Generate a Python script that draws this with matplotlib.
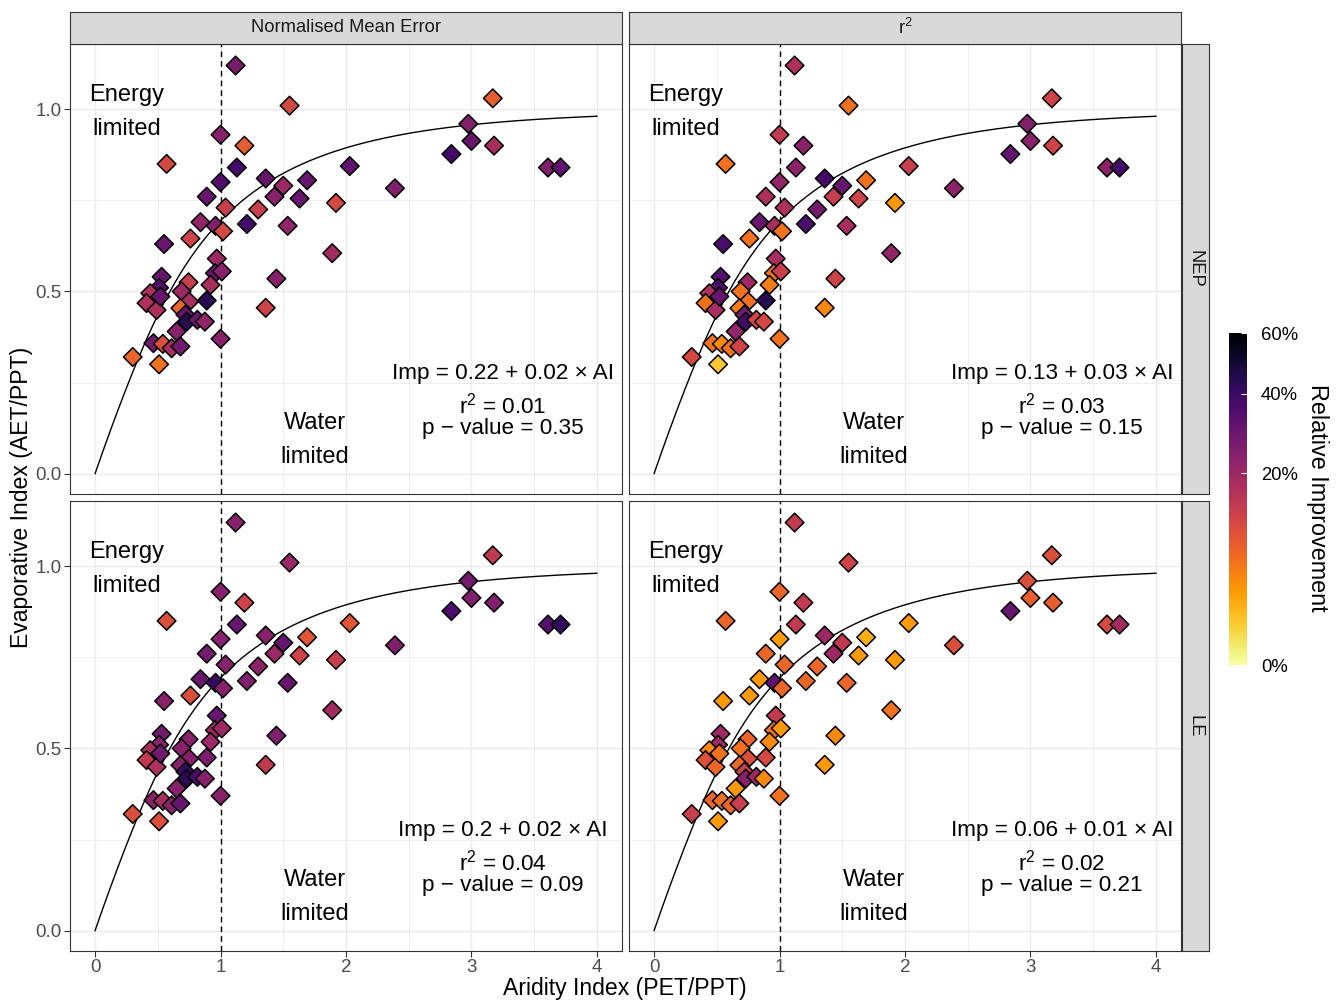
import numpy as np
import matplotlib.pyplot as plt
from matplotlib.colors import PowerNorm
from matplotlib.ticker import MultipleLocator

plt.rcParams['font.family'] = ['Liberation Sans', 'DejaVu Sans']
plt.rcParams['mathtext.fontset'] = 'custom'
plt.rcParams['mathtext.rm'] = 'Liberation Sans'
plt.rcParams['mathtext.it'] = 'Liberation Sans:italic'

# site positions (same in every panel)
aridity = [1.12, 1.55, 1.00, 1.19, 0.57, 1.13, 1.36, 1.00, 0.89, 1.50,
           1.43, 1.63, 1.04, 1.30, 1.21, 1.535, 0.84, 0.96, 1.02, 0.76,
           0.55, 0.97, 0.53, 0.745, 0.955, 1.01, 1.445, 3.17, 2.975, 3.00,
           3.18, 2.84, 3.61, 3.71, 2.03, 2.39, 1.69, 1.92, 1.89, 0.51,
           0.44, 0.69, 0.92, 0.89, 0.41, 0.49, 0.52, 0.75, 0.68, 0.72,
           0.73, 0.815, 0.875, 0.65, 0.465, 0.54, 0.61, 0.68, 1.00, 0.30,
           0.51, 1.36]
evap = [1.12, 1.01, 0.93, 0.90, 0.85, 0.84, 0.81, 0.80, 0.76, 0.79,
        0.76, 0.755, 0.73, 0.725, 0.685, 0.68, 0.69, 0.68, 0.665, 0.645,
        0.63, 0.59, 0.54, 0.525, 0.55, 0.555, 0.535, 1.03, 0.96, 0.913,
        0.90, 0.877, 0.84, 0.84, 0.844, 0.783, 0.805, 0.743, 0.605, 0.51,
        0.495, 0.50, 0.518, 0.475, 0.468, 0.449, 0.486, 0.472, 0.454, 0.436,
        0.417, 0.422, 0.417, 0.39, 0.358, 0.356, 0.344, 0.349, 0.37, 0.32,
        0.30, 0.455]

# relative improvement (%) per panel
nep_nme = [27, 11, 24, 8, 11, 38, 30, 35, 30, 20,
           24, 30, 13, 13, 38, 22, 22, 25, 11, 12,
           30, 20, 30, 13, 30, 24, 24, 8, 25, 30,
           18, 38, 25, 32, 32, 25, 30, 11, 19, 35,
           17, 20, 18, 44, 17, 17, 30, 18, 7, 30,
           44, 30, 22, 24, 28, 10, 18, 28, 24, 7,
           6, 12]
nep_r2 = [17, 6, 14, 23, 6, 23, 38, 22, 17, 30,
          13, 12, 17, 28, 36, 18, 30, 18, 6, 6,
          36, 18, 34, 20, 6, 13, 12, 12, 25, 24,
          12, 31, 23, 38, 13, 23, 6, 3, 22, 36,
          17, 6, 5, 44, 6, 18, 30, 6, 5, 28,
          38, 11, 11, 22, 6, 4, 6, 12, 6, 11,
          1, 4]
le_nme = [24, 21, 24, 12, 10, 30, 24, 24, 28, 30,
          20, 12, 24, 23, 25, 30, 30, 40, 24, 10,
          24, 30, 28, 24, 20, 20, 25, 14, 28, 25,
          25, 36, 34, 42, 9, 25, 9, 13, 19, 24,
          18, 24, 20, 26, 14, 17, 28, 24, 24, 40,
          44, 36, 24, 24, 24, 18, 24, 30, 24, 10,
          10, 14]
le_r2 = [14, 12, 7, 14, 7, 14, 20, 3, 7, 14,
         20, 3, 7, 7, 7, 7, 3, 32, 7, 3,
         3, 14, 20, 7, 6, 3, 4, 10, 10, 8,
         8, 30, 11, 19, 3, 10, 2, 3, 6, 20,
         4, 6, 4, 11, 10, 7, 6, 10, 7, 13,
         24, 20, 4, 3, 7, 6, 7, 13, 6, 13,
         3, 3]

col_titles = ['Normalised Mean Error', 'r$^2$']
row_titles = ['NEP', 'LE']
panel_colours = [[nep_nme, nep_r2], [le_nme, le_r2]]
eq_lines = [[('Imp = 0.22 + 0.02 \u00d7 AI', 'r$^2$ = 0.01', 'p \u2212 value = 0.35'),
             ('Imp = 0.13 + 0.03 \u00d7 AI', 'r$^2$ = 0.03', 'p \u2212 value = 0.15')],
            [('Imp = 0.2 + 0.02 \u00d7 AI', 'r$^2$ = 0.04', 'p \u2212 value = 0.09'),
             ('Imp = 0.06 + 0.01 \u00d7 AI', 'r$^2$ = 0.02', 'p \u2212 value = 0.21')]]

# Budyko curve
ai = np.linspace(1e-6, 4, 400)
budyko = np.sqrt(ai * np.tanh(1 / ai) * (1 - np.exp(-ai)))

W, H = 1338, 1002
fig = plt.figure(figsize=(W / 100, H / 100), dpi=100)

norm = PowerNorm(gamma=0.5, vmin=0, vmax=60)
cmap = plt.get_cmap('inferno_r')

lefts = [70, 629]
tops = [44, 501]
pw, ph = 552, 450
border = '#333333'

for r in range(2):
    for c in range(2):
        ax = fig.add_axes([lefts[c] / W, 1 - (tops[r] + ph) / H, pw / W, ph / H])
        ax.set_xlim(-0.2, 4.2)
        ax.set_ylim(-0.056, 1.179)
        ax.xaxis.set_major_locator(MultipleLocator(1))
        ax.xaxis.set_minor_locator(MultipleLocator(0.5))
        ax.yaxis.set_major_locator(MultipleLocator(0.5))
        ax.yaxis.set_minor_locator(MultipleLocator(0.25))
        ax.grid(which='major', color='#EBEBEB', lw=1.0, zorder=0)
        ax.grid(which='minor', color='#EBEBEB', lw=0.6, zorder=0)
        ax.set_axisbelow(True)
        for s in ax.spines.values():
            s.set_color(border)
            s.set_linewidth(0.8)
        ax.tick_params(which='minor', length=0)
        ax.tick_params(which='major', length=4, width=0.8, color=border,
                       labelsize=13.5, labelcolor='#4D4D4D', pad=2)
        ax.set_yticks([0, 0.5, 1.0])
        ax.set_yticklabels(['0.0', '0.5', '1.0'])
        if c == 1:
            ax.tick_params(axis='y', which='both', left=False, labelleft=False)
        if r == 0:
            ax.tick_params(axis='x', which='both', bottom=False, labelbottom=False)

        ax.plot(ai, budyko, color='black', lw=1.0, zorder=2)
        ax.axvline(1, color='black', lw=1.0, ls=(0, (4, 3)), zorder=2)
        ax.scatter(aridity, evap, c=panel_colours[r][c], cmap=cmap, norm=norm,
                   marker='D', s=90, edgecolors='black', linewidths=1.1, zorder=3)

        ax.text(0.25, 0.992, 'Energy\nlimited', ha='center', va='center',
                fontsize=17, linespacing=1.68)
        ax.text(1.75, 0.092, 'Water\nlimited', ha='center', va='center',
                fontsize=17, linespacing=1.68)
        l1, l2, l3 = eq_lines[r][c]
        ax.text(3.25, 0.274, l1, ha='center', va='center', fontsize=16.2)
        ax.text(3.25, 0.186, l2, ha='center', va='center', fontsize=16.2)
        ax.text(3.25, 0.124, l3, ha='center', va='center', fontsize=16.2)

# column strips
for c in range(2):
    sax = fig.add_axes([lefts[c] / W, 1 - 44 / H, pw / W, 32 / H])
    sax.set_facecolor('#D9D9D9')
    sax.set_xticks([])
    sax.set_yticks([])
    for s in sax.spines.values():
        s.set_color(border)
        s.set_linewidth(0.8)
    sax.text(0.5, 0.5, col_titles[c], ha='center', va='center',
             fontsize=13.2, color='#1A1A1A', transform=sax.transAxes)

# row strips
for r in range(2):
    sax = fig.add_axes([1182 / W, 1 - (tops[r] + ph) / H, 27 / W, ph / H])
    sax.set_facecolor('#D9D9D9')
    sax.set_xticks([])
    sax.set_yticks([])
    for s in sax.spines.values():
        s.set_color(border)
        s.set_linewidth(0.8)
    sax.text(0.5, 0.5, row_titles[r], ha='center', va='center', rotation=-90,
             fontsize=13.2, color='#1A1A1A', transform=sax.transAxes)

# axis titles
fig.text(22 / W, 1 - 497 / H, 'Evaporative Index (AET/PPT)', rotation=90,
         ha='center', va='center', fontsize=16.6)
fig.text(625 / W, 1 - 988 / H, 'Aridity Index (PET/PPT)',
         ha='center', va='center', fontsize=16.6)

# colour bar
cax = fig.add_axes([1229 / W, 1 - 665 / H, 18 / W, 332 / H])
sm = plt.cm.ScalarMappable(norm=norm, cmap=cmap)
cb = fig.colorbar(sm, cax=cax, ticks=[0, 20, 40, 60])
cb.outline.set_visible(False)
cb.set_ticklabels(['0%', '20%', '40%', '60%'])
cax.tick_params(length=4, width=0.8, color='white', direction='in',
                labelsize=13.3, pad=10)
fig.text(1318 / W, 1 - 498 / H, 'Relative Improvement', rotation=-90,
         ha='center', va='center', fontsize=16.8)

fig.savefig('out.png', dpi=100)
